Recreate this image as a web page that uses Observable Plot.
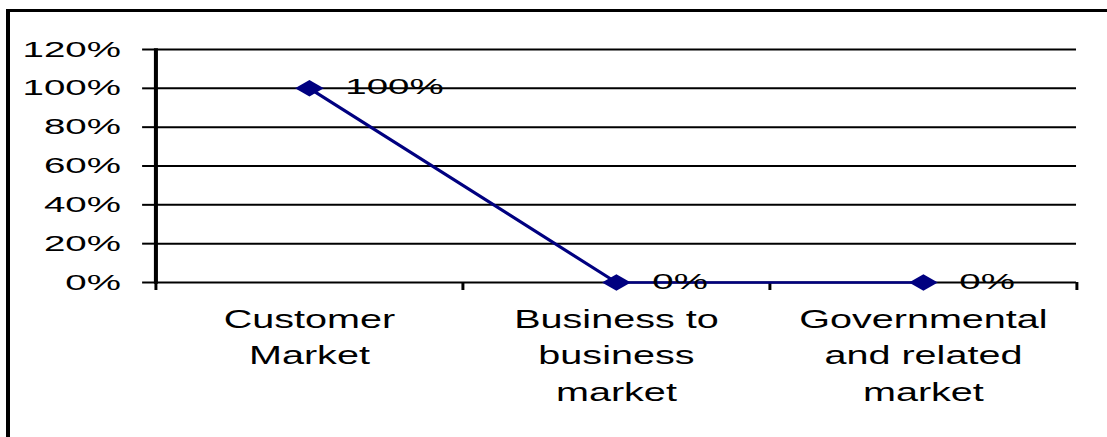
<!DOCTYPE html>
<html>
<head>
<meta charset="utf-8">
<script src="https://cdn.jsdelivr.net/npm/d3@7"></script>
<script src="https://cdn.jsdelivr.net/npm/@observablehq/plot@0.6"></script>
<style>
  html, body { margin: 0; padding: 0; background: #fff; }
  #wrap { position: relative; width: 1107px; height: 437px; overflow: hidden; }
  #border { position: absolute; left: 6px; top: 9px; right: -10px; bottom: -10px;
            border-top: 3px solid #000; border-left: 4px solid #000; pointer-events: none; }
</style>
</head>
<body>
<div id="wrap"><div id="border"></div></div>
<script>
// ---- data ----
const categories = ["Customer\nMarket", "Business to\nbusiness\nmarket", "Governmental\nand related\nmarket"];
const values = [100, 0, 0]; // percent
const yTicks = [0, 20, 40, 60, 80, 100, 120];

// ---- layout ----
const STRETCH = 1.75;            // the reference is horizontally stretched
const W = 1107 / STRETCH;
const H = 437;
const fmt = d => d + "%";

const data = categories.map((c, i) => ({pos: i + 0.5, category: c, value: values[i]}));
const boundaries = d3.range(categories.length + 1);

const svg = Plot.plot({
  width: W,
  height: H,
  marginLeft: 88.6,
  marginRight: 17.7,
  marginTop: 49,
  marginBottom: 155,
  style: {fontFamily: "'Liberation Sans', Arial, sans-serif", background: "white", color: "black", overflow: "visible"},
  x: {domain: [0, categories.length], axis: null},
  y: {domain: [0, 120], axis: null},
  marks: [
    Plot.gridY(yTicks, {stroke: "black", strokeOpacity: 1, strokeWidth: 2}),
    Plot.axisY(yTicks, {tickSize: 7.4, tickPadding: 12.6, tickFormat: fmt, fontSize: 22, stroke: "black", strokeWidth: 2, label: null}),
    Plot.axisX(boundaries, {tickSize: 8, tickFormat: () => "", stroke: "black", strokeWidth: 1.7, label: null}),
    Plot.frame({anchor: "left", stroke: "black", strokeWidth: 2.3}),
    Plot.text(data, {x: "pos", frameAnchor: "bottom", text: "category", lineAnchor: "top", dy: 19.5, fontSize: 26, lineHeight: 1.4, fill: "black"}),
    Plot.line(data, {x: "pos", y: "value", stroke: "#000080", strokeWidth: 2.5}),
    Plot.dot(data, {x: "pos", y: "value", symbol: "diamond2", r: 7.4, fill: "#000080", stroke: "none"}),
    Plot.text(data, {x: "pos", y: "value", text: d => fmt(d.value), textAnchor: "start", dx: 20.5, dy: -1, fontSize: 22, fill: "black"})
  ]
});

svg.setAttribute("viewBox", `0 0 ${W} ${H}`);
svg.setAttribute("width", 1107);
svg.setAttribute("height", H);
svg.setAttribute("preserveAspectRatio", "none");
svg.style.maxWidth = "none";
svg.style.width = "1107px";
svg.style.height = H + "px";
svg.style.display = "block";
document.getElementById("wrap").insertBefore(svg, document.getElementById("border"));

// narrow the multi-line category labels a little, about each label's own centre
const SQUEEZE = 0.87;
svg.querySelectorAll("text").forEach(t => {
  if (t.querySelectorAll("tspan").length < 2) return;
  const b = t.getBBox();
  const cx = b.x + b.width / 2;
  const tr = t.getAttribute("transform") || "";
  t.setAttribute("transform", `${tr} translate(${cx},0) scale(${SQUEEZE},1) translate(${-cx},0)`);
});
</script>
</body>
</html>
